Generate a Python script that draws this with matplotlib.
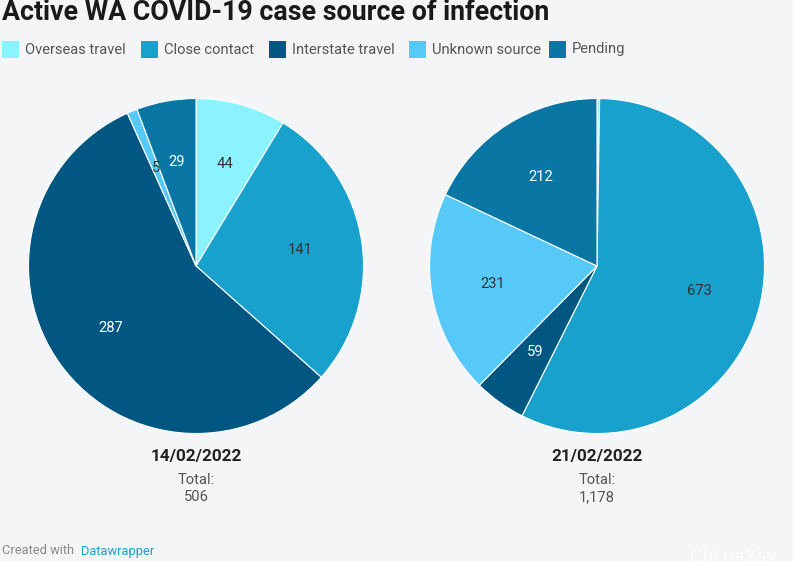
import matplotlib
matplotlib.use("Agg")
import matplotlib.pyplot as plt
from matplotlib.patches import Rectangle

categories = ["Overseas travel", "Close contact", "Interstate travel", "Unknown source", "Pending"]
values_1 = [44, 141, 287, 5, 29]
values_2 = [3, 673, 59, 231, 212]
show_2 = [False, True, True, True, True]
colors = ["#8af3ff", "#18a1cd", "#015781", "#57c9f8", "#0a76a4"]
label_colors_1 = ["#333333", "#333333", "#ffffff", "#333333", "#ffffff"]
label_colors_2 = ["#333333", "#333333", "#ffffff", "#333333", "#ffffff"]
dates = ["14/02/2022", "21/02/2022"]
totals = ["506", "1,178"]

W, H = 800, 571
plt.rcParams["font.family"] = ["Roboto", "DejaVu Sans"]
fig = plt.figure(figsize=(W / 100, H / 100), dpi=100, facecolor="white")

def fx(x): return x / W
def fy(y): return 1 - y / H

fig.patches.append(Rectangle((0, fy(561)), fx(793), 561 / H, transform=fig.transFigure,
                             facecolor="#f3f5f7", edgecolor="none", zorder=-5))

fig.text(fx(2), fy(13), "Active WA COVID-19 case source of infection", fontsize=19.3,
         fontweight="bold", color="#1a1a1a", va="center", ha="left")

swatch_x = [2, 141, 269, 409, 549]
text_x = [25, 164, 292, 432, 572]
for c, col, sx, tx in zip(categories, colors, swatch_x, text_x):
    fig.patches.append(Rectangle((fx(sx), fy(58)), 17 / W, 17 / H, transform=fig.transFigure,
                                 facecolor=col, edgecolor="none"))
    fig.text(fx(tx), fy(49.5), c, fontsize=10.6, color="#555555", va="center", ha="left")

def draw_pie(cx, cy, r, vals, label_colors, show, date, total):
    ax = fig.add_axes([fx(cx - r), fy(cy + r), 2 * r / W, 2 * r / H])
    ax.set_xlim(-1, 1); ax.set_ylim(-1, 1)
    wedges, texts = ax.pie(vals, colors=colors, startangle=90, counterclock=False, radius=1,
                           labels=[str(v) if s else "" for v, s in zip(vals, show)],
                           labeldistance=0.63,
                           wedgeprops=dict(edgecolor="white", linewidth=0.8))
    ax.set_xlim(-1, 1); ax.set_ylim(-1, 1)
    for t, c in zip(texts, label_colors):
        t.set_color(c); t.set_fontsize(10.6); t.set_ha("center"); t.set_va("center")
    fig.text(fx(cx), fy(456), date, fontsize=12.3, fontweight="bold", color="#222222", ha="center", va="center")
    fig.text(fx(cx), fy(480), "Total:", fontsize=10.6, color="#555555", ha="center", va="center")
    fig.text(fx(cx), fy(497), total, fontsize=10.6, color="#555555", ha="center", va="center")

draw_pie(196, 266, 167.5, values_1, label_colors_1, [True] * 5, dates[0], totals[0])
draw_pie(597, 266, 167.5, values_2, label_colors_2, show_2, dates[1], totals[1])

t1 = fig.text(fx(2), fy(551), "Created with ", fontsize=9.3, color="#888888", ha="left", va="center")
fig.text(fx(81), fy(551), "Datawrapper", fontsize=9.3, color="#18a1cd", ha="left", va="center")
fig.text(fx(690), fy(557), "Chi na2ay", fontsize=14, color="#ffffff", alpha=0.7, ha="left", va="center")

fig.savefig("out.png", dpi=100, facecolor=fig.get_facecolor())
